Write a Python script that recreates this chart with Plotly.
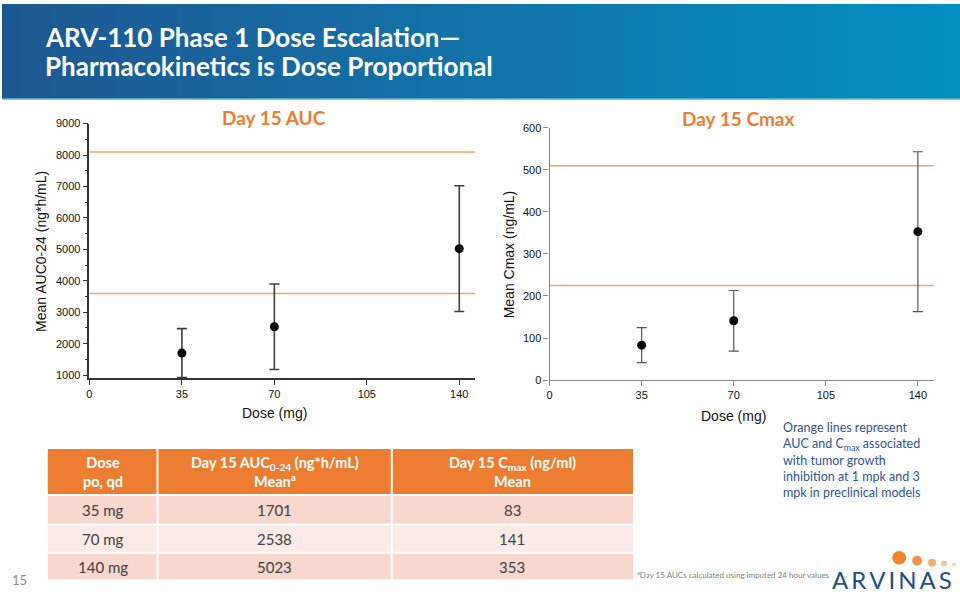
import plotly.graph_objects as go

# ---------------- data ----------------
doses = [35, 70, 140]
auc_mean = [1701, 2538, 5023]
auc_sd = [780, 1360, 2000]
cmax_mean = [83, 141, 353]
cmax_sd = [41.5, 72, 190]
auc_ref_lines = [8100, 3600]
cmax_ref_lines = [510, 225]
x_ticks = [0, 35, 70, 105, 140]

table_header = ["<b>Dose<br>po, qd</b>",
                "<b>Day 15 AUC<sub>0-24</sub> (ng*h/mL)<br>Mean<sup>a</sup></b>",
                "<b>Day 15 C<sub>max</sub> (ng/ml)<br>Mean</b>"]
table_dose = ["35 mg", "70 mg", "140 mg"]

W, H = 960, 600
def px(x): return x / W
def py(y): return 1 - y / H

ORANGE = "#ED7D31"
REFLINE = "#F2A46E"
TEXTFONT = "Lato"
AXFONT = "Liberation Sans"

fig = go.Figure()

# scatter with error bars
fig.add_trace(go.Scatter(
    x=doses, y=auc_mean, mode="markers", xaxis="x", yaxis="y",
    marker=dict(color="black", size=9),
    error_y=dict(type="data", array=auc_sd, color="#404040", thickness=1.6, width=5),
    showlegend=False, hoverinfo="x+y"))
fig.add_trace(go.Scatter(
    x=doses, y=cmax_mean, mode="markers", xaxis="x2", yaxis="y2",
    marker=dict(color="black", size=9),
    error_y=dict(type="data", array=cmax_sd, color="#555555", thickness=1.2, width=5),
    showlegend=False, hoverinfo="x+y"))

shapes = []
# reference lines
for v in auc_ref_lines:
    shapes.append(dict(type="line", xref="x domain", yref="y", x0=0, x1=1, y0=v, y1=v,
                       line=dict(color=REFLINE, width=1.5), layer="below"))
for v in cmax_ref_lines:
    shapes.append(dict(type="line", xref="x2 domain", yref="y2", x0=0, x1=1, y0=v, y1=v,
                       line=dict(color=REFLINE, width=1.5), layer="below"))

# banner gradient
c0 = (0x1E, 0x58, 0x92)
c1 = (0x05, 0x90, 0xC2)
N = 60
for i in range(N):
    t = i / (N - 1)
    col = tuple(int(round(c0[k] + (c1[k] - c0[k]) * t)) for k in range(3))
    shapes.append(dict(type="rect", xref="paper", yref="paper",
                       x0=px(W * i / N - 1), x1=px(W * (i + 1) / N + 1), y0=py(95), y1=py(-2),
                       fillcolor="rgb(%d,%d,%d)" % col, line=dict(width=0), layer="below"))
shapes.append(dict(type="line", xref="paper", yref="paper", x0=0, x1=1, y0=py(95), y1=py(95),
                   line=dict(color="#5FB4DC", width=1.5)))

# table
col_edges = [45, 155, 390, 632]
row_edges = [(452, 498), (500, 528), (530, 557), (559, 585)]
row_fills = [ORANGE, "#F8D7CD", "#FBEAE5", "#F8D7CD"]
for r, (y0, y1) in enumerate(row_edges):
    for c in range(3):
        shapes.append(dict(type="rect", xref="paper", yref="paper",
                           x0=px(col_edges[c] + (1 if c else 0)), x1=px(col_edges[c + 1] - (1 if c < 2 else 0)),
                           y0=py(y1), y1=py(y0),
                           fillcolor=row_fills[r], line=dict(width=0), layer="below"))

# logo dots
dots = [(899, 563, 7, "#F0862A"), (917, 566, 5, "#F29548"), (932, 568, 4, "#F4AC74"),
        (944, 569, 3, "#F6C19C"), (954, 570, 2.2, "#F8D2B8")]
for cx, cy, rr, colr in dots:
    shapes.append(dict(type="circle", xref="paper", yref="paper",
                       x0=px(cx - rr), x1=px(cx + rr), y0=py(cy + rr), y1=py(cy - rr),
                       fillcolor=colr, line=dict(width=0)))

ann = []
# title
ann.append(dict(text="<b>ARV-110 Phase 1 Dose Escalation—</b>", x=px(40), y=py(32), xref="paper", yref="paper",
                xanchor="left", yanchor="middle", showarrow=False,
                font=dict(family=TEXTFONT, size=26, color="white")))
ann.append(dict(text="<b>Pharmacokinetics is Dose Proportional</b>", x=px(40), y=py(61), xref="paper", yref="paper",
                xanchor="left", yanchor="middle", showarrow=False,
                font=dict(family=TEXTFONT, size=26, color="white")))
# chart titles
ann.append(dict(text="<b>Day 15 AUC</b>", x=px(272), y=py(114), xref="paper", yref="paper",
                xanchor="center", yanchor="middle", showarrow=False,
                font=dict(family=TEXTFONT, size=19, color=ORANGE)))
ann.append(dict(text="<b>Day 15 Cmax</b>", x=px(737), y=py(115), xref="paper", yref="paper",
                xanchor="center", yanchor="middle", showarrow=False,
                font=dict(family=TEXTFONT, size=19, color=ORANGE)))
# axis titles
ann.append(dict(text="Mean AUC0-24 (ng*h/mL)", x=px(38), y=py(250), xref="paper", yref="paper",
                textangle=-90, xanchor="center", yanchor="middle", showarrow=False,
                font=dict(family=AXFONT, size=14, color="#111")))
ann.append(dict(text="Mean Cmax (ng/mL)", x=px(508), y=py(253), xref="paper", yref="paper",
                textangle=-90, xanchor="center", yanchor="middle", showarrow=False,
                font=dict(family=AXFONT, size=14, color="#111")))
ann.append(dict(text="Dose (mg)", x=px(272), y=py(415), xref="paper", yref="paper",
                xanchor="center", yanchor="middle", showarrow=False,
                font=dict(family=AXFONT, size=14, color="#111")))
ann.append(dict(text="Dose (mg)", x=px(733), y=py(418), xref="paper", yref="paper",
                xanchor="center", yanchor="middle", showarrow=False,
                font=dict(family=AXFONT, size=14, color="#111")))
# note
ann.append(dict(text="Orange lines represent<br>AUC and C<sub>max</sub> associated<br>with tumor growth<br>"
                     "inhibition at 1 mpk and 3<br>mpk in preclinical models",
                x=px(780), y=py(420), xref="paper", yref="paper", align="left",
                xanchor="left", yanchor="top", showarrow=False,
                font=dict(family=TEXTFONT, size=12.5, color="#2F5597")))
# table text
col_centers = [(col_edges[i] + col_edges[i + 1]) / 2 for i in range(3)]
for c in range(3):
    ann.append(dict(text=table_header[c], x=px(col_centers[c]), y=py(475), xref="paper", yref="paper",
                    xanchor="center", yanchor="middle", showarrow=False,
                    font=dict(family=TEXTFONT, size=14.5, color="white")))
for r in range(3):
    yc = (row_edges[r + 1][0] + row_edges[r + 1][1]) / 2
    vals = [table_dose[r], str(auc_mean[r]), str(cmax_mean[r])]
    for c in range(3):
        ann.append(dict(text=vals[c], x=px(col_centers[c]), y=py(yc), xref="paper", yref="paper",
                        xanchor="center", yanchor="middle", showarrow=False,
                        font=dict(family=TEXTFONT, size=15, color="#404040")))
# footnote
ann.append(dict(text="<sup>a</sup>Day 15 AUCs calculated using imputed 24 hour values", x=px(634), y=py(580),
                xref="paper", yref="paper", xanchor="left", yanchor="middle", showarrow=False,
                font=dict(family=TEXTFONT, size=8, color="#7F7F7F")))
# logo text
ann.append(dict(text="A\u2009R\u2009V\u2009I\u2009N\u2009A\u2009S", x=px(892), y=py(585), xref="paper", yref="paper",
                xanchor="center", yanchor="middle", showarrow=False,
                font=dict(family=TEXTFONT, size=24, color="#1F4E8C")))
# page number
ann.append(dict(text="15", x=px(7), y=py(586), xref="paper", yref="paper",
                xanchor="left", yanchor="middle", showarrow=False,
                font=dict(family=TEXTFONT, size=13, color="#8C8C8C")))

axis_common = dict(showgrid=False, zeroline=False, showline=True, ticks="outside", ticklen=5,
                   tickfont=dict(family=AXFONT, size=11, color="#111"))

fig.update_layout(
    width=W, height=H, autosize=False,
    margin=dict(l=0, r=0, t=0, b=0),
    paper_bgcolor="white", plot_bgcolor="white",
    shapes=shapes, annotations=ann,
    xaxis=dict(domain=[px(86.7), px(473.6)], range=[0, 146], tickvals=x_ticks, anchor="y",
               linecolor="#333", tickcolor="#333", linewidth=1.5, **axis_common),
    yaxis=dict(domain=[py(379.9), py(120)], range=[900, 9000], tick0=0, dtick=1000, anchor="x",
               linecolor="#333", tickcolor="#333", linewidth=1.5,
               minor=dict(dtick=500, tick0=0, ticks="outside", ticklen=3, tickcolor="#333"),
               **axis_common),
    xaxis2=dict(domain=[px(548.3), px(933.6)], range=[0, 146], tickvals=x_ticks, anchor="y2",
                linecolor="#888", tickcolor="#888", linewidth=1.2, **axis_common),
    yaxis2=dict(domain=[py(381.7), py(124.3)], range=[0, 600], dtick=100, anchor="x2",
                linecolor="#888", tickcolor="#888", linewidth=1.2, **axis_common),
)

post = ("var s=document.createElement('style');"
        "s.textContent='html,body{margin:0!important;padding:0!important;overflow:hidden!important;width:960px;height:600px;}';"
        "document.head.appendChild(s);"
        "var d=document.getElementById('{plot_id}');"
        "d.style.position='fixed';d.style.left='0px';d.style.top='0px';d.style.margin='0';"
        "window.scrollTo(0,0);")
fig.write_html("out.html", post_script=post, config={"displayModeBar": False})
